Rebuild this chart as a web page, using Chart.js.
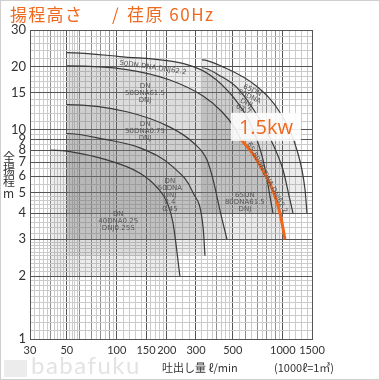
<!DOCTYPE html>
<html><head><meta charset="utf-8">
<script src="https://cdn.jsdelivr.net/npm/chart.js@4.4.0/dist/chart.umd.min.js"></script>
<style>
html,body{margin:0;padding:0;background:#fff;}
body{position:relative;width:380px;height:380px;overflow:hidden;}
#c{position:absolute;left:0;top:0;}
.t{position:absolute;white-space:nowrap;}
#frame{position:absolute;left:0;top:0;width:380px;height:380px;box-sizing:border-box;border:1px solid #cfcfcf;pointer-events:none;}
.ttl{top:5px;color:#ee6a1e;font-family:'Noto Sans CJK JP';font-size:17px;line-height:17px;}
</style></head><body>
<canvas id="c" width="380" height="380"></canvas>
<div class="t ttl" style="left:10px;letter-spacing:1.3px">揚程高さ</div>
<div class="t ttl" style="left:112px">/</div>
<div class="t ttl" style="left:127px;letter-spacing:1.5px">荏原 60Hz</div>
<div class="t" style="left:3px;top:151px;color:#333;font-family:'Noto Sans CJK JP';font-size:12px;line-height:12px;text-align:center;width:11px">全<br>揚<br>程<br>m</div>
<div class="t" style="left:162px;top:361px;color:#333;font-family:'Noto Sans CJK JP';font-size:11px;line-height:13px">吐出し量 ℓ/min</div>
<div class="t" style="left:274px;top:361px;color:#333;font-family:'Noto Sans CJK JP';font-size:11px;line-height:13px">(1000ℓ=1㎥)</div>
<div class="t" style="left:4px;top:360px;width:23px;height:17px;background:#ececec;"></div>
<div class="t" style="left:31px;top:352px;color:#e3e3e3;font-family:Lato;font-size:24px;line-height:26px;letter-spacing:1.5px">babafuku</div>
<div id="frame"></div>
<script>
// ---- axis tick labels ----
const xTickLabels = [30, 50, 100, 150, 200, 300, 500, 1000, 1500];
const yTickLabels = [1, 2, 3, 4, 5, 6, 7, 8, 9, 10, 15, 20, 30];

// ---- pump range curves: discharge Q (l/min), total head H (m) ----
// first point = top-left corner of the range, last point = bottom of the range
const q40DN025 = [40, 86, 138, 175, 201, 218, 240];
const h40DN025 = [8.0, 7.2, 6.2, 5.3, 4.5, 3.6, 2.0];
const q50DN04 = [50, 85, 138, 218, 288, 331, 340];
const h50DN04 = [9.6, 9.0, 8.2, 6.65, 5.0, 3.43, 2.5];
const q50DN075 = [50, 115, 209, 288, 349, 380, 419, 461];
const h50DN075 = [13.2, 12.2, 10.3, 8.7, 7.2, 5.8, 4.1, 3.0];
const q50DN15 = [50, 115, 209, 331, 430, 510, 560, 665, 763, 857, 962, 1031];
const h50DN15 = [20.2, 19.4, 17.3, 14.5, 12.2, 10.3, 9.0, 7.6, 6.35, 5.3, 4.0, 3.0];
const q50DN22 = [50, 104, 265, 364, 501, 634, 760, 873];
const h50DN22 = [23.4, 22.4, 20.5, 18.3, 14.4, 10.8, 7.2, 4.0];
const q65DN22 = [326, 420, 530, 699, 837, 1003, 1105, 1152];
const h65DN22 = [19.8, 18.1, 15.9, 11.8, 9.15, 6.44, 4.62, 4.0];
const q65DN37 = [326, 436, 699, 962, 1218, 1361, 1399];
const h65DN37 = [21.6, 20.0, 16.1, 12.1, 8.0, 5.2, 4.0];
// highlighted 1.5 kW curve
const q15kw = [560, 665, 763, 857, 962, 1031];
const h15kw = [9.0, 7.6, 6.35, 5.3, 4.0, 3.0];

// ---- region labels ----
const labelTexts = [
  ['50DN.DNA.DNJ62.2'],
  ['DN', '50DNA61.5', 'DNJ'],
  ['DN', '50DNA0.75', 'DNJ'],
  ['DN', '50DNA', 'DNJ', '0.4', '0.45'],
  ['DN', '40DNA0.25', 'DNJ0.25S'],
  ['65DN', '80DNA', 'DNJ', '63.7'],
  ['65.80DN.DNA.DNJ62.2'],
  ['65DN', '80DNA61.5', 'DNJ']
];
const labelQ = [165, 148, 148, 209, 102, 616, 804, 591];
const labelH = [19.8, 15.0, 9.8, 4.89, 3.67, 13.9, 5.9, 4.52];
const labelRot = [8, 0, 0, 0, 0, 25, 62, 0];
const kwText = '1.5kw';
const kwQ = 792, kwH = 10.33;

// ---- grid line layout (styling only) ----
const xGridSegments = [[30, 60, 2], [60, 100, 5], [100, 200, 10], [200, 500, 25], [500, 1000, 50], [1000, 1500, 100]];
const yGridSegments = [[1, 3, 0.1], [3, 5, 0.2], [5, 10, 0.5], [10, 20, 1], [20, 30, 2]];
function gridValues(segs) {
  const out = [];
  segs.forEach(([a, b, s]) => {
    const n = Math.round((b - a) / s);
    for (let i = 0; i <= n; i++) {
      const v = Math.round((a + i * s) * 1000) / 1000;
      if (!out.includes(v)) out.push(v);
    }
  });
  return out;
}
const xGrid = gridValues(xGridSegments);
const yGrid = gridValues(yGridSegments);
const xMedium = [40, 60, 70, 80, 90, 400, 600, 700, 800, 900];
const has = (arr, v) => arr.some(a => Math.abs(a - v) < 1e-6);
const xGridColor = v => has(xTickLabels, v) ? '#555' : has(xMedium, v) ? '#8e8e8e' : '#cbcbcb';
const yGridColor = v => has(yTickLabels, v) ? '#555' : '#cbcbcb';

function region(q, h) {
  const bottom = h[h.length - 1];
  const pts = [{x: q[0], y: bottom}].concat(q.map((v, i) => ({x: v, y: h[i]})));
  return {
    data: pts,
    borderColor: '#3a3a3a',
    borderWidth: 1.2,
    backgroundColor: 'rgba(120,120,120,0.14)',
    fill: {value: bottom},
    pointRadius: 0,
    cubicInterpolationMode: 'monotone',
    order: 1,
    segment: {borderColor: c => c.p0DataIndex === 0 ? 'rgba(0,0,0,0)' : '#3a3a3a'}
  };
}
const datasets = [
  {
    data: q15kw.map((v, i) => ({x: v, y: h15kw[i]})),
    borderColor: '#f0661a', borderWidth: 3, fill: false, pointRadius: 0,
    cubicInterpolationMode: 'monotone', order: 0
  },
  region(q40DN025, h40DN025),
  region(q50DN04, h50DN04),
  region(q50DN075, h50DN075),
  region(q50DN15, h50DN15),
  region(q50DN22, h50DN22),
  region(q65DN22, h65DN22),
  region(q65DN37, h65DN37)
];

const annot = {
  id: 'annot',
  afterDatasetsDraw(chart) {
    const {ctx, scales: {x, y}} = chart;
    ctx.save();
    ctx.textAlign = 'center';
    ctx.textBaseline = 'middle';
    ctx.fillStyle = '#555';
    ctx.font = '7px "DejaVu Sans"';
    labelTexts.forEach((lines, i) => {
      const px = x.getPixelForValue(labelQ[i]);
      const py = y.getPixelForValue(labelH[i]);
      ctx.save();
      ctx.translate(px, py);
      ctx.rotate(labelRot[i] * Math.PI / 180);
      const n = lines.length;
      lines.forEach((t, j) => ctx.fillText(t, 0, (j - (n - 1) / 2) * 7));
      ctx.restore();
    });
    const bx = x.getPixelForValue(kwQ), by = y.getPixelForValue(kwH);
    ctx.fillStyle = 'rgba(255,255,255,0.88)';
    ctx.fillRect(bx - 35, by - 14, 70, 28);
    ctx.fillStyle = '#f0661a';
    ctx.font = '20px "Open Sans"';
    ctx.fillText(kwText, bx, by + 1);
    ctx.restore();
  }
};

new Chart(document.getElementById('c'), {
  type: 'line',
  data: {datasets},
  options: {
    responsive: false,
    animation: false,
    events: [],
    layout: {padding: {left: 0, right: 68, top: 30, bottom: 0}},
    plugins: {legend: {display: false}, tooltip: {enabled: false}, filler: {drawTime: 'beforeDatasetsDraw'}},
    elements: {point: {radius: 0}},
    scales: {
      x: {
        type: 'logarithmic', min: 30, max: 1500,
        afterBuildTicks: s => { s.ticks = xGrid.map(v => ({value: v})); },
        afterFit: s => { s.height = 41; },
        grid: {color: c => xGridColor(c.tick ? c.tick.value : 0), lineWidth: 1, drawTicks: false},
        border: {display: true, color: '#555', width: 1},
        ticks: {
          autoSkip: false, maxRotation: 0, minRotation: 0, padding: 5, color: '#333',
          font: {family: 'Lato', size: 11},
          callback: v => has(xTickLabels, v) ? String(v) : ''
        }
      },
      y: {
        type: 'logarithmic', min: 1, max: 30,
        afterBuildTicks: s => { s.ticks = yGrid.map(v => ({value: v})); },
        afterFit: s => { s.width = 30; },
        grid: {color: c => yGridColor(c.tick ? c.tick.value : 0), lineWidth: 1, drawTicks: false},
        border: {display: true, color: '#555', width: 1},
        ticks: {
          autoSkip: false, padding: 4, color: '#333',
          font: {family: 'Lato', size: 13},
          callback: v => has(yTickLabels, v) ? String(v) : ''
        }
      }
    }
  },
  plugins: [annot]
});
</script>
</body></html>
